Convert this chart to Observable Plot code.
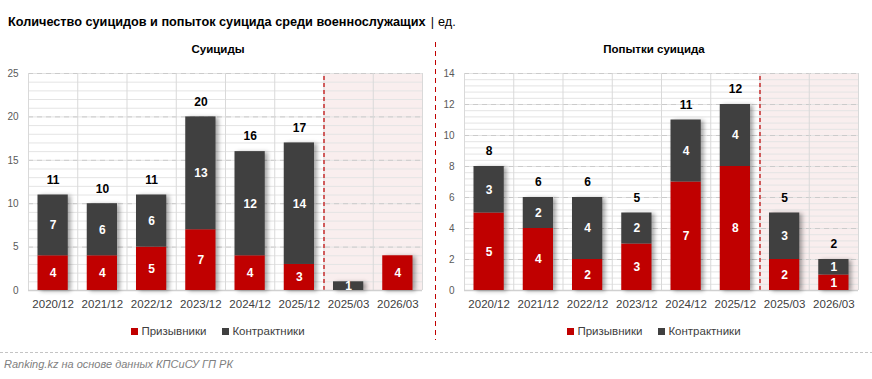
<!DOCTYPE html>
<html><head><meta charset="utf-8">
<script src="https://cdn.jsdelivr.net/npm/d3@7"></script>
<script src="https://cdn.jsdelivr.net/npm/@observablehq/plot@0.6"></script>
<style>
  html, body { margin: 0; padding: 0; background: #fff; }
  #root { position: relative; width: 872px; height: 379px; overflow: hidden; font-family: "Liberation Sans", Arial, sans-serif; color: #000; }
  .abs { position: absolute; }
  #title { left: 8px; top: 15px; font-size: 12.7px; font-weight: bold; white-space: nowrap; }
  #title .unit { font-weight: normal; }
  #title .bar { font-weight: normal; margin: 0 4px 0 5px; }
  .sub { top: 43px; width: 436px; text-align: center; font-size: 11.5px; font-weight: bold; }
  .chart { top: 60px; }
  .legend { top: 325px; width: 436px; text-align: center; font-size: 11.5px; color: #404040; white-space: nowrap; }
  .legend .sw { display: inline-block; width: 7px; height: 7px; margin-right: 3px; vertical-align: 0px; }
  .legend .item + .item { margin-left: 16px; }
  #divider { left: 435px; top: 42px; width: 1px; height: 298px; background: repeating-linear-gradient(to bottom, #c00000 0 5px, transparent 5px 9px); }
  #sep { left: 0; top: 352px; width: 872px; height: 1px; background: repeating-linear-gradient(to right, #c4c4c4 0 3px, transparent 3px 5px); }
  #caption { left: 4px; top: 358px; font-size: 11px; font-style: italic; color: #808080; white-space: nowrap; }
</style>
</head><body>
<div id="root">
  <div id="title" class="abs">Количество суицидов и попыток суицида среди военнослужащих<span class="bar">|</span><span class="unit">ед.</span></div>
  <div class="abs sub" style="left:0">Суициды</div>
  <div class="abs sub" style="left:436px">Попытки суицида</div>
  <div id="chartL" class="abs chart" style="left:0"></div>
  <div id="chartR" class="abs chart" style="left:436px"></div>
  <div id="divider" class="abs"></div>
  <div id="legendL" class="abs legend" style="left:0"></div>
  <div id="legendR" class="abs legend" style="left:436px"></div>
  <div id="sep" class="abs"></div>
  <div id="caption" class="abs">Ranking.kz на основе данных КПСиСУ ГП РК</div>
</div>
<script>
const categories = ["2020/12","2021/12","2022/12","2023/12","2024/12","2025/12","2025/03","2026/03"];
const seriesNames = ["Призывники","Контрактники"];
const seriesColors = ["#c00000","#404040"];
const highlightedCategories = ["2025/03","2026/03"];

const suicidesConscripts = [4,4,5,7,4,3,0,4];
const suicidesContract   = [7,6,6,13,12,14,1,0];
const suicidesTotals     = [11,10,11,20,16,17,null,null];
const suicidesTicks      = [0,5,10,15,20,25];
const suicidesMinorStep  = 1;

const attemptsConscripts = [5,4,2,3,7,8,2,1];
const attemptsContract   = [3,2,4,2,4,4,3,1];
const attemptsTotals     = [8,6,6,5,11,12,5,2];
const attemptsTicks      = [0,2,4,6,8,10,12,14];
const attemptsMinorStep  = 0.4;

function makeChart(conscripts, contract, totals, ticks, minorStep) {
  const n = categories.length;
  const rows = categories.flatMap((c, i) => [
    {i, cat: c, series: seriesNames[0], value: conscripts[i]},
    {i, cat: c, series: seriesNames[1], value: contract[i]}
  ]);
  const totalRows = categories.map((c, i) => ({i, t: totals[i]})).filter(d => d.t != null);
  const yMax = ticks[ticks.length - 1];
  const minor = d3.range(0, yMax + 1e-9, minorStep);
  const hiStart = categories.indexOf(highlightedCategories[0]);
  const hiEnd = hiStart + highlightedCategories.length;
  const svg = Plot.plot({
    width: 436,
    height: 260,
    marginLeft: 28,
    marginRight: 14,
    marginTop: 13,
    marginBottom: 30,
    style: {fontFamily: "'Liberation Sans', Arial, sans-serif", fontSize: "11px", background: "transparent"},
    x: {domain: [0, n], axis: null, label: null},
    y: {domain: [0, yMax], axis: null, label: null},
    color: {domain: seriesNames, range: seriesColors},
    marks: [
      Plot.rect([0], {x1: hiStart, x2: hiEnd, y1: 0, y2: yMax, fill: "#f9eeee"}),
      Plot.ruleY(minor, {stroke: "#e4e4e4", strokeWidth: 1}),
      Plot.ruleY(ticks.slice(1), {stroke: "#cbcbcb", strokeDasharray: "5,4"}),
      Plot.ruleX(d3.range(0, n + 1), {y1: 0, y2: yMax, stroke: "#d9d9d9"}),
      Plot.ruleX([hiStart], {y1: 0, y2: yMax, stroke: "#c00000", strokeDasharray: "4,3", strokeWidth: 1.2}),
      Plot.ruleY([0], {stroke: "#d0d0d0", strokeWidth: 1.5}),
      Plot.rectY(rows, {x1: "i", x2: d => d.i + 1, y: "value", fill: "series", insetLeft: 9.5, insetRight: 9.5}),
      Plot.text(rows, Plot.stackY({x: d => d.i + 0.5, y: "value", text: d => d.value > 0 ? String(d.value) : null, fill: "white", fontWeight: "bold", fontSize: 12})),
      Plot.text(totalRows, {x: d => d.i + 0.5, y: "t", text: d => String(d.t), dy: -15, fill: "#000", fontWeight: "bold", fontSize: 12}),
      Plot.axisY(ticks, {tickSize: 0, tickPadding: 10, fontSize: 10, fill: "#595959", label: null}),
      Plot.axisX(d3.range(n).map(i => i + 0.5), {tickSize: 0, tickPadding: 9, fontSize: 11.5, fill: "#404040", label: null, tickFormat: d => categories[Math.floor(d)]})
    ]
  });
  const rectGroups = svg.querySelectorAll('g[aria-label="rect"]');
  if (rectGroups.length) rectGroups[rectGroups.length - 1].style.filter = "drop-shadow(3px 1px 2px rgba(0,0,0,0.35))";
  return svg;
}

function makeLegend(el) {
  el.innerHTML = seriesNames.map((s, k) =>
    `<span class="item"><span class="sw" style="background:${seriesColors[k]}"></span>${s}</span>`).join("");
}

document.getElementById("chartL").appendChild(makeChart(suicidesConscripts, suicidesContract, suicidesTotals, suicidesTicks, suicidesMinorStep));
document.getElementById("chartR").appendChild(makeChart(attemptsConscripts, attemptsContract, attemptsTotals, attemptsTicks, attemptsMinorStep));
makeLegend(document.getElementById("legendL"));
makeLegend(document.getElementById("legendR"));
</script>
</body></html>
